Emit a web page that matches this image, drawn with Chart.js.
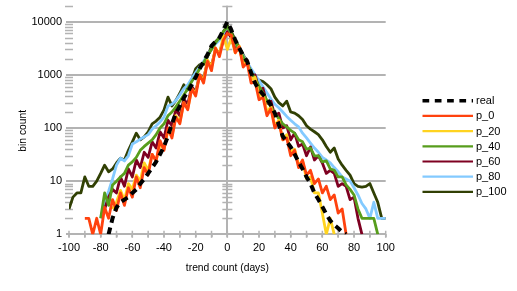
<!DOCTYPE html>
<html><head><meta charset="utf-8">
<script src="https://cdn.jsdelivr.net/npm/chart.js@4/dist/chart.umd.min.js"></script>
<style>html,body{margin:0;padding:0;background:#fff}canvas{display:block}</style>
</head><body>
<canvas id="c" width="517" height="291"></canvas>
<script>
// ---- data (x = trend count in days, y = bin count) ----
const days = [
  -100,-97.5,-95,-92.5,-90,-87.5,-85,-82.5,-80,-77.5,
  -75,-72.5,-70,-67.5,-65,-62.5,-60,-57.5,-55,-52.5,
  -50,-47.5,-45,-42.5,-40,-37.5,-35,-32.5,-30,-27.5,
  -25,-22.5,-20,-17.5,-15,-12.5,-10,-7.5,-5,-2.5,
  0,
  2.5,5,7.5,10,12.5,15,17.5,20,22.5,25,
  27.5,30,32.5,35,37.5,40,42.5,45,47.5,50,
  52.5,55,57.5,60,62.5,65,67.5,70,72.5,75,
  77.5,80,82.5,85,87.5,90,92.5,95,97.5,100
];
const real = [
  null,null,null,null,null,null,null,null,null,null,
  1,2,3.2,4,4.5,5,6,7,9,11,
  14,18,23,32,45,70,120,190,260,370,
  480,650,900,1300,1800,2400,3500,4200,5000,7000,
  10000,
  7000,4500,3200,2300,1800,1100,700,520,430,350,
  270,190,115,70,55,44,32,23,17,12,
  9,6,4.5,3.3,2.4,1.8,1.5,1.3,1.1,1,
  null,null,null,null,null,null,null,null,null,null
];
const p_0 = [
  null,null,null,null,2,2,1,2,1,3.2,
  2,4.5,2.8,6,3.5,7.5,5,12,7.5,18,
  13,32,24,58,38,100,65,160,120,300,
  220,550,400,1000,700,1800,1200,3200,2200,4500,
  6000,
  5600,2600,3400,1400,1700,700,750,340,380,170,
  230,100,130,60,65,30,38,18,25,13,
  16,9,11,6,8,4.5,5.5,2.5,3,1,
  null,null,null,null,null,null,null,null,null,null
];
const p_20 = [
  null,null,null,null,null,null,null,null,null,null,
  null,3,4,6.7,4.4,9,7,13,10,22,
  16,32,24,50,40,90,70,170,130,300,
  230,550,450,1000,800,1900,1400,3200,2400,5500,
  3000,
  5000,2600,3500,1500,1800,800,900,400,450,200,
  250,110,140,60,75,35,40,20,24,11,
  12,6,6,2.5,1,2,1,null,null,null,
  null,null,null,null,null,null,null,null,null,null
];
const p_40 = [
  null,null,null,null,null,null,null,null,2,6,
  3.5,8.5,10,12,14,20,23,28,38,45,
  52,60,75,100,120,170,200,250,320,420,
  550,750,950,1300,1700,2300,3000,4000,5000,6500,
  8000,
  6000,4200,3000,2200,1600,1150,850,620,450,330,
  250,190,150,120,105,90,80,60,55,40,
  42,30,30,23,24,17,16,12,12,8.5,
  7,5.5,3,2,2,2,2,1,null,null
];
const p_60 = [
  null,null,null,null,null,null,null,null,null,3,
  5,7,6,12,8,17,12,25,18,35,
  28,55,42,85,65,140,110,220,170,350,
  280,600,480,1000,850,1800,1500,3000,2600,4500,
  6500,
  5000,3000,3300,1700,1900,950,1000,520,560,290,
  320,170,190,100,110,60,80,45,50,30,
  44,25,30,22,14,16,14,8,9,8,
  4.5,5,2,1,null,null,null,null,null,null
];
const p_80 = [
  null,null,null,null,null,null,null,null,2,4,
  6.5,11,20,27,24,30,50,55,62,68,
  75,95,110,130,160,260,280,330,420,550,
  650,850,1100,1400,1800,2400,3000,3800,4500,5500,
  7000,
  5500,4000,3000,2300,1700,1300,1000,780,600,460,
  350,280,240,200,165,140,120,105,80,65,
  52,42,35,28,25,22,18,15,12,11,
  10,7.5,5.5,3.8,3,2,4,2,2,2
];
const p_100 = [
  3,5,6,6,12,8,8,10,14,20,
  15,17,22,27,25,38,55,80,60,68,
  85,120,135,160,220,380,260,330,450,650,
  520,800,1300,1550,1550,2200,3500,4200,5000,6500,
  8500,
  6500,4500,3300,2400,1700,1200,850,800,750,650,
  550,380,300,260,320,200,190,170,145,110,
  95,85,75,60,45,35,42,26,20,16,
  13,9,8,7.7,8,9,6,4,2,2
];
const seriesNames = ['real','p_0','p_20','p_40','p_60','p_80','p_100'];
const seriesValues = [real, p_0, p_20, p_40, p_60, p_80, p_100];
const seriesColors = ['#000000','#ff420e','#ffd320','#579d1c','#7e0021','#83caff','#314004'];
const yTickValues = [1, 10, 100, 1000, 10000];
const xTickLabels = [-100, -80, -60, -40, -20, 0, 20, 40, 60, 80, 100];

// ---- chart ----
const FONT = 'Liberation Sans';
const GRID = '#b3b3b3';

const datasets = seriesNames.map((name, k) => ({
  label: name,
  data: days.map((d, i) => ({ x: d, y: seriesValues[k][i] })),
  borderColor: seriesColors[k],
  backgroundColor: seriesColors[k],
  borderWidth: k === 0 ? 4 : 2.8,
  borderDash: k === 0 ? [7, 5] : [],
  borderJoinStyle: 'round',
  pointRadius: 0,
  tension: 0,
  spanGaps: false
}));

const decor = {
  id: 'decor',
  beforeDatasetsDraw(chart) {
    const { ctx, scales: { x, y }, chartArea: a } = chart;
    ctx.save();
    ctx.strokeStyle = GRID;
    ctx.lineWidth = 1.5;
    const x0 = x.getPixelForValue(0);
    ctx.beginPath();
    for (let d = 1; d <= 10000; d *= 10) {
      for (let m = 2; m <= 9; m++) {
        const v = m * d;
        if (v > y.max) break;
        const py = Math.round(y.getPixelForValue(v)) + 0.5;
        ctx.moveTo(x0 - 5, py); ctx.lineTo(x0 + 5, py);
        ctx.moveTo(a.left - 4, py); ctx.lineTo(a.left + 4, py);
      }
    }
    for (let v = x.min; v <= x.max; v += 10) {
      const px = x.getPixelForValue(v);
      ctx.moveTo(px, a.bottom - 3.5); ctx.lineTo(px, a.bottom + 3.5);
    }
    ctx.stroke();
    ctx.restore();
  },
  afterDraw(chart) {
    const { ctx } = chart;
    ctx.save();
    // y axis title
    ctx.fillStyle = '#000';
    ctx.font = '10.3px "' + FONT + '"';
    ctx.textAlign = 'center';
    ctx.textBaseline = 'middle';
    ctx.translate(23, 130.8);
    ctx.rotate(-Math.PI / 2);
    ctx.fillText('bin count', 0, 0);
    ctx.restore();
    // legend
    ctx.save();
    ctx.font = '11px "' + FONT + '"';
    ctx.textBaseline = 'middle';
    ctx.textAlign = 'left';
    chart.data.datasets.forEach((ds, i) => {
      const ly = 100.7 + i * 15.2;
      ctx.beginPath();
      ctx.strokeStyle = ds.borderColor;
      ctx.lineWidth = i === 0 ? 3.6 : 2.2;
      ctx.setLineDash(i === 0 ? [6.7, 5.6] : []);
      ctx.moveTo(422.5, ly); ctx.lineTo(473, ly);
      ctx.stroke();
      ctx.setLineDash([]);
      ctx.fillStyle = '#000';
      ctx.fillText(ds.label, 476, ly + 0.5);
    });
    ctx.restore();
  }
};

new Chart(document.getElementById('c'), {
  type: 'line',
  data: { datasets },
  plugins: [decor],
  options: {
    responsive: false,
    animation: false,
    devicePixelRatio: 1,
    layout: { padding: { left: 0, right: 131.3, top: 5.7, bottom: 0 } },
    plugins: { legend: { display: false }, tooltip: { enabled: false } },
    scales: {
      x: {
        type: 'linear', min: -100, max: 100,
        afterFit(s) { s.height = 56.7; },
        ticks: {
          stepSize: 10, autoSkip: false, maxRotation: 0, minRotation: 0, padding: 4,
          color: '#000', font: { family: FONT, size: 11 },
          callback: (v) => xTickLabels.includes(v) ? String(v) : ''
        },
        grid: {
          color: (c) => (c.tick && c.tick.value === 0) ? GRID : 'rgba(0,0,0,0)',
          lineWidth: 2, tickColor: GRID, tickLength: 3, tickWidth: 1.5
        },
        border: { display: false },
        title: {
          display: true, text: 'trend count (days)', color: '#000',
          font: { family: FONT, size: 10.3 }, padding: { top: 4, bottom: 17 }
        }
      },
      y: {
        type: 'logarithmic', min: 1, max: 20000,
        afterFit(s) { s.width = 69; s.paddingTop = 0; s.paddingBottom = 0; },
        afterBuildTicks(s) { s.ticks = yTickValues.map(v => ({ value: v, major: true })); },
        ticks: {
          padding: 4, color: '#000', font: { family: FONT, size: 11 },
          callback: (v) => String(v)
        },
        grid: { color: GRID, lineWidth: 2, tickLength: 3 },
        border: { display: false },
        title: { display: false }
      }
    }
  }
});
</script>
</body></html>
